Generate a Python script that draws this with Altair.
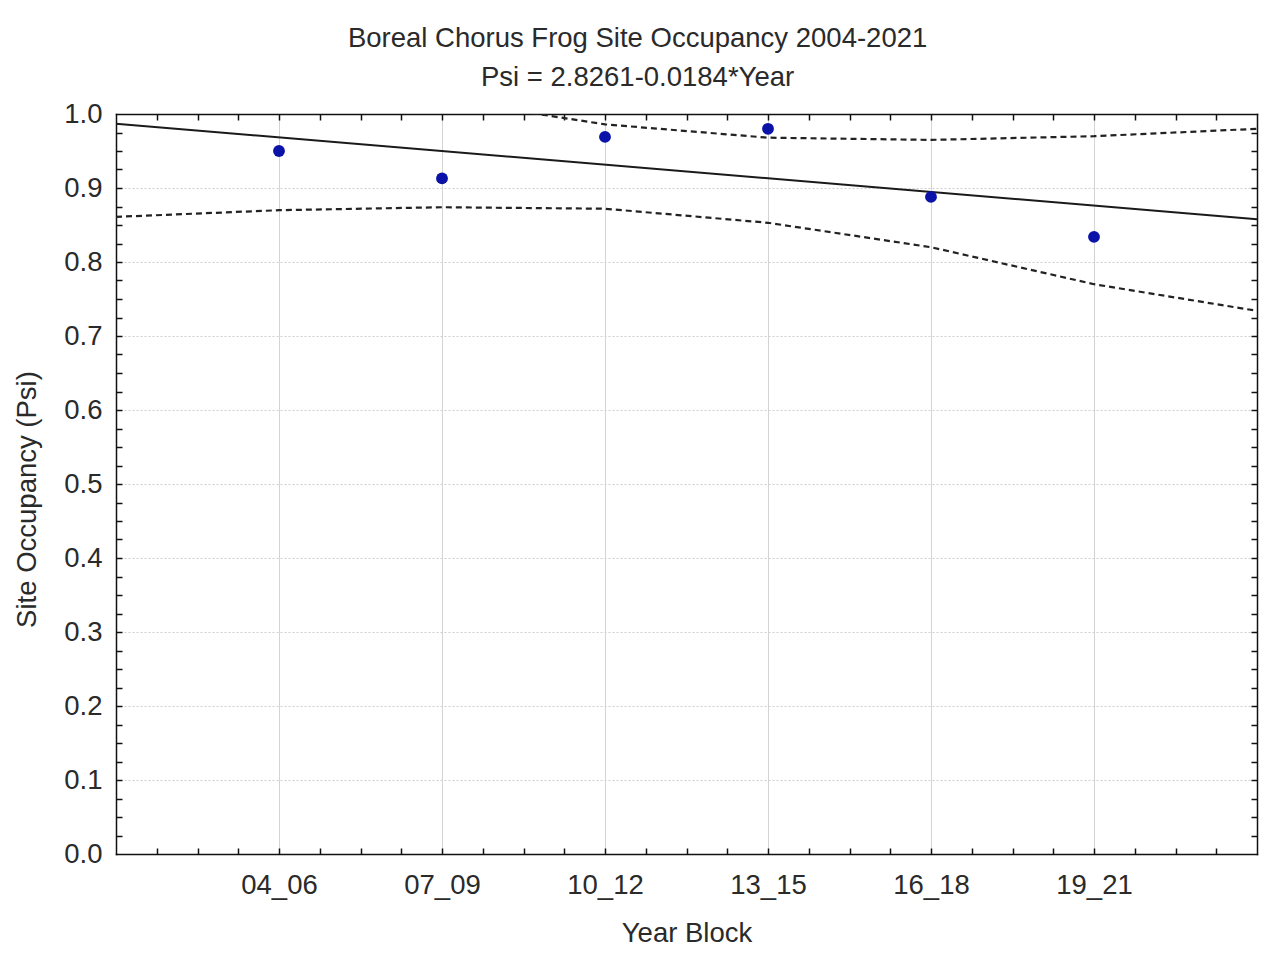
import json
import altair as alt
import pandas as pd

# ---- data ----
categories = ["04_06", "07_09", "10_12", "13_15", "16_18", "19_21"]
block_index = [1, 2, 3, 4, 5, 6]
occupancy = [0.950, 0.913, 0.969, 0.980, 0.888, 0.834]

# confidence band (dashed lines), read at block positions incl. plot edges
band_pos = [0, 1, 2, 3, 4, 5, 6, 7]
band_lower = [0.861, 0.870, 0.874, 0.872, 0.853, 0.820, 0.770, 0.734]
band_upper = [1.08, 1.05, 1.02, 0.986, 0.968, 0.965, 0.970, 0.980]

title_lines = ["Boreal Chorus Frog Site Occupancy 2004-2021", "Psi = 2.8261-0.0184*Year"]

pts = pd.DataFrame({"idx": block_index, "occ": occupancy, "block": categories})
band = pd.DataFrame({"pos": band_pos, "lower": band_lower, "upper": band_upper})

FONT = "Liberation Sans"
FS = 27.5
TXT = "#2a2a2a"
FRAME = "#111111"

xs = alt.Scale(domain=[0, 7], nice=False, zero=False)
ys = alt.Scale(domain=[0, 1], nice=False, zero=False)

x_minor = [i * 0.25 for i in range(1, 28)]
y_minor = [round(i * 0.025, 3) for i in range(1, 40)]

main_x = alt.Axis(
    values=block_index,
    labelExpr=json.dumps(categories) + "[datum.value - 1]",
    ticks=False, domain=True, domainColor=FRAME, domainWidth=1.5, domainCap="square",
    grid=True, gridColor="#d4d4d4", gridWidth=1,
    labelFont=FONT, labelFontSize=FS, labelColor=TXT, labelPadding=17,
    title="Year Block", titleFont=FONT, titleFontSize=FS, titleFontWeight="normal",
    titleColor=TXT, titlePadding=21,
)
main_y = alt.Axis(
    values=[round(i * 0.1, 1) for i in range(0, 11)], format=".1f",
    ticks=False, domain=True, domainColor=FRAME, domainWidth=1.5, domainCap="square",
    grid=True, gridColor="#cfcfcf", gridDash=[2, 2], gridWidth=1,
    labelFont=FONT, labelFontSize=FS, labelColor=TXT, labelPadding=14,
    title="Site Occupancy (Psi)", titleFont=FONT, titleFontSize=FS, titleFontWeight="normal",
    titleColor=TXT, titlePadding=22, titleY=385,
)


def tick_axis(orient, vals):
    return alt.Axis(orient=orient, values=vals, labels=False, domain=False, grid=False,
                    ticks=True, tickSize=6, offset=-6, tickColor=FRAME, tickWidth=1.5,
                    title=None)


def frame_axis(orient):
    return alt.Axis(orient=orient, labels=False, ticks=False, grid=False, domain=True,
                    domainColor=FRAME, domainWidth=1.5, domainCap="square", title=None)


lower = alt.Chart(band).mark_line(color="#222", strokeWidth=2.2, strokeDash=[6, 4]).encode(
    x=alt.X("pos:Q", scale=xs, axis=main_x),
    y=alt.Y("lower:Q", scale=ys, axis=main_y),
)
upper = alt.Chart(band).mark_line(color="#222", strokeWidth=2.2, strokeDash=[6, 4], clip=True).encode(
    x=alt.X("pos:Q", scale=xs, axis=tick_axis("bottom", x_minor)),
    y=alt.Y("upper:Q", scale=ys, axis=tick_axis("left", y_minor)),
)
reg = alt.Chart(pts).transform_regression("idx", "occ", extent=[0, 7]).mark_line(
    color="#1a1a1a", strokeWidth=2).encode(
    x=alt.X("idx:Q", scale=xs, axis=tick_axis("top", x_minor)),
    y=alt.Y("occ:Q", scale=ys, axis=tick_axis("right", y_minor)),
)
points = alt.Chart(pts).mark_circle(size=140, color="#0a12a8", opacity=1).encode(
    x=alt.X("idx:Q", scale=xs, axis=frame_axis("top")),
    y=alt.Y("occ:Q", scale=ys, axis=frame_axis("right")),
)

chart = alt.layer(lower, upper, reg, points).resolve_axis(
    x="independent", y="independent"
).properties(
    width=1141, height=740,
    padding={"left": 5, "top": 16, "right": 5, "bottom": 5},
    background="white",
    title=alt.Title(title_lines, font=FONT, fontSize=FS, fontWeight="normal", color=TXT,
                    lineHeight=39, anchor="middle", frame="bounds", offset=9),
).configure_view(strokeWidth=0)

chart.save("out.html", embed_options={"renderer": "svg", "actions": False})
